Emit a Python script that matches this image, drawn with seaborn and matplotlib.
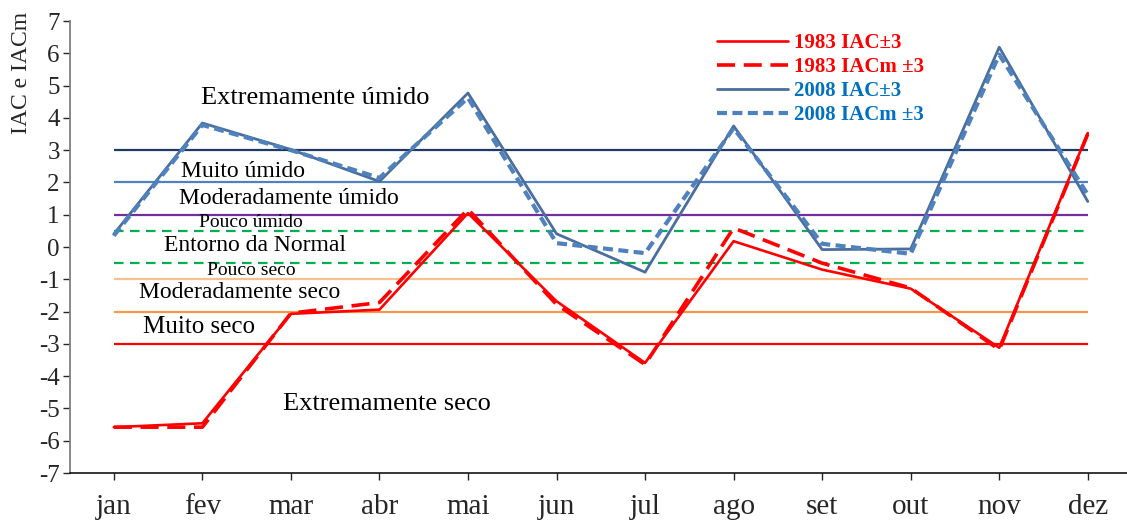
import numpy as np
import matplotlib
matplotlib.use("Agg")
import matplotlib.pyplot as plt
import seaborn as sns

# ==========================================
# DONNEES
# ==========================================
months = ["jan", "fev", "mar", "abr", "mai", "jun", "jul", "ago", "set", "out", "nov", "dez"]

iac_1983 = [-5.58, -5.46, -2.07, -1.94, 1.05, -1.68, -3.59, 0.18, -0.70, -1.29, -3.12, 3.53]
iacm_1983 = [-5.58, -5.58, -2.05, -1.72, 1.17, -1.78, -3.64, 0.59, -0.50, -1.27, -3.18, 3.50]
iac_2008 = [0.40, 3.84, 3.02, 2.03, 4.77, 0.41, -0.78, 3.75, -0.08, -0.06, 6.19, 1.41]
iacm_2008 = [0.35, 3.78, 3.00, 2.14, 4.62, 0.12, -0.19, 3.68, 0.10, -0.21, 5.96, 1.62]

# limites des classes
class_limits = [3, 2, 1, 0.5, -0.5, -1, -2, -3]
class_colors = ["#1F3864", "#4F81BD", "#7030A0", "#00B050", "#00B050", "#FAC090", "#F79646", "#FF0000"]
class_styles = ["-", "-", "-", (0, (4.3, 2.9)), (0, (4.3, 2.9)), "-", "-", "-"]

# étiquettes des classes : (texte, x, y, taille)
class_labels = [
    ("Extremamente úmido", 2.27, 4.61, 19),
    ("Muito úmido", 1.46, 2.33, 17),
    ("Moderadamente úmido", 1.98, 1.51, 17),
    ("Pouco úmido", 1.55, 0.75, 14),
    ("Entorno da Normal", 1.60, 0.04, 17),
    ("Pouco seco", 1.55, -0.73, 14),
    ("Moderadamente seco", 1.42, -1.40, 17),
    ("Muito seco", 0.96, -2.49, 18),
    ("Extremamente seco", 3.08, -4.86, 19),
]

# ==========================================
# FIGURE
# ==========================================
sns.set_style("white")
plt.rcParams["font.family"] = ["Liberation Serif", "DejaVu Serif"]
plt.rcParams["axes.unicode_minus"] = False

fig = plt.figure(figsize=(11.27, 5.23), dpi=100)
ax = fig.add_axes([0.0617, 0.0956, 0.9428, 0.8642])

xpos = np.arange(len(months))

for yv, c, ls in zip(class_limits, class_colors, class_styles):
    ax.hlines(yv, xpos[0], xpos[-1], colors=c, linestyles=ls, lw=1.6, zorder=1)

sns.lineplot(x=xpos, y=iac_1983, color="#FF0000", lw=1.9, ax=ax, label="1983 IAC±3", zorder=3)
sns.lineplot(x=xpos, y=iacm_1983, color="#FF0000", lw=2.6, linestyle=(0, (5, 2.4)),
             ax=ax, label="1983 IACm ±3", zorder=3)
sns.lineplot(x=xpos, y=iac_2008, color="#4A6E9E", lw=2.0, ax=ax, label="2008 IAC±3", zorder=4)
sns.lineplot(x=xpos, y=iacm_2008, color="#4F81BD", lw=3.0, linestyle=(0, (2.4, 1.3)),
             ax=ax, label="2008 IACm ±3", zorder=4)

for txt, xl, yl, fs in class_labels:
    ax.text(xl, yl, txt, ha="center", va="center", fontsize=fs, color="black", zorder=5)

ax.set_xlim(-0.5, 11.5)
ax.set_ylim(-7, 7)
ax.set_yticks(range(-7, 8))
ax.set_xticks(xpos, labels=months)
ax.tick_params(axis="y", labelsize=18, direction="out", length=5, width=1, pad=2, left=True)
ax.tick_params(axis="x", labelsize=21, direction="out", length=5, width=1, pad=10, bottom=True)

for s in ["top", "right"]:
    ax.spines[s].set_visible(False)
ax.spines["left"].set_color("#808080")
ax.spines["left"].set_linewidth(1.3)
ax.spines["bottom"].set_color("black")
ax.spines["bottom"].set_linewidth(1.1)
ax.grid(False)

fig.text(0.019, 0.86, "IAC e IACm", rotation=90, ha="center", va="center", fontsize=17)

leg = ax.legend(loc="upper left", bbox_to_anchor=(0.627, 0.957), bbox_transform=fig.transFigure,
                frameon=False, borderpad=0, handlelength=3.4, handletextpad=0.3,
                labelspacing=0.2, prop={"weight": "bold", "size": 15})
for t, c in zip(leg.get_texts(), ["#FF0000", "#FF0000", "#0070C0", "#0070C0"]):
    t.set_color(c)

fig.savefig("out.png", dpi=100)
